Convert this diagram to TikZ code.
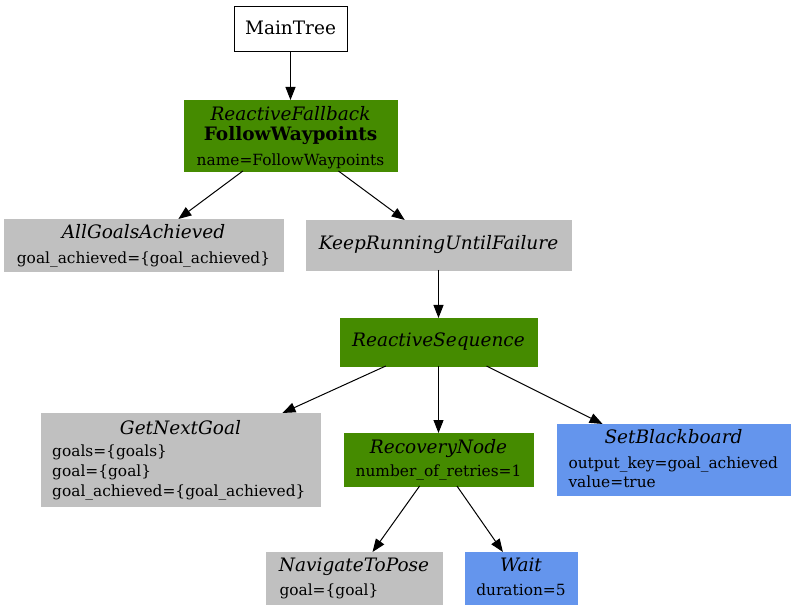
\documentclass[tikz,border=0pt]{standalone}
\usepackage{fontspec}
\setmainfont{DejaVu Serif}
\usetikzlibrary{arrows.meta}
\definecolor{bgreen}{HTML}{458B00}
\definecolor{bgray}{HTML}{C0C0C0}
\definecolor{bblue}{HTML}{6495ED}
\tikzset{
  box/.style={draw=#1, fill=#1, inner sep=0pt, outer sep=0pt},
  whitebox/.style={draw=black, fill=white, line width=1pt, inner sep=0pt, outer sep=0pt},
  ttl/.style={anchor=base, inner sep=0pt, font=\fontsize{18.5}{22}\selectfont\itshape},
  ttlup/.style={anchor=base, inner sep=0pt, font=\fontsize{18.5}{22}\selectfont},
  ttlbf/.style={anchor=base, inner sep=0pt, font=\fontsize{18.5}{22}\selectfont\bfseries},
  prm/.style={anchor=base, inner sep=0pt, font=\fontsize{15.4}{18}\selectfont},
  prml/.style={anchor=base west, inner sep=0pt, font=\fontsize{15.4}{18}\selectfont},
  edge/.style={line width=1pt, -{Triangle[length=13pt,width=10pt]}}
}
\begin{document}
\begin{tikzpicture}[x=1pt,y=-1pt]
\useasboundingbox (0,0) rectangle (795,609);
% boxes
\node[whitebox, minimum width=113pt, minimum height=45pt] (main) at (290.5,29.5) {};
\node[box=bgreen, minimum width=213pt, minimum height=71pt] (fw) at (290.5,135.5) {};
\node[box=bgray, minimum width=279pt, minimum height=52pt] (ag) at (143.5,245) {};
\node[box=bgray, minimum width=265pt, minimum height=50pt] (keep) at (438.5,245) {};
\node[box=bgreen, minimum width=197pt, minimum height=48pt] (rs) at (438.5,342) {};
\node[box=bgray, minimum width=279pt, minimum height=93pt] (gng) at (180.5,459.5) {};
\node[box=bgreen, minimum width=189pt, minimum height=53pt] (rec) at (438.5,459.5) {};
\node[box=bblue, minimum width=233pt, minimum height=71pt] (sbb) at (673.5,459.5) {};
\node[box=bgray, minimum width=176pt, minimum height=52pt] (nav) at (354,578) {};
\node[box=bblue, minimum width=112pt, minimum height=52pt] (wait) at (521,578) {};
% texts
\node[ttlup] (t-main) at (290.5,34.5) {MainTree};
\node[ttl] (t-fw1) at (290.5,120.5) {ReactiveFallback};
\node[ttlbf] (t-fw2) at (290.5,140.7) {FollowWaypoints};
\node[prm] (t-fw3) at (290.5,165.7) {name=FollowWaypoints};
\node[ttl] (t-ag1) at (143.5,238.3) {AllGoalsAchieved};
\node[prm] (t-ag2) at (143.5,263.3) {goal\_achieved=\{goal\_achieved\}};
\node[ttl] (t-keep) at (438.5,249.3) {KeepRunningUntilFailure};
\node[ttl] (t-rs) at (438.5,346.7) {ReactiveSequence};
\node[ttl] (t-gng) at (180.5,434) {GetNextGoal};
\node[prml] (t-gng1) at (52,456.7) {goals=\{goals\}};
\node[prml] (t-gng2) at (52,476.7) {goal=\{goal\}};
\node[prml] (t-gng3) at (52,496.7) {goal\_achieved=\{goal\_achieved\}};
\node[ttl] (t-rec) at (438.5,453.3) {RecoveryNode};
\node[prm] (t-rec1) at (438.5,476.7) {number\_of\_retries=1};
\node[ttl] (t-sbb) at (673.5,443.3) {SetBlackboard};
\node[prml] (t-sbb1) at (568.3,468.3) {output\_key=goal\_achieved};
\node[prml] (t-sbb2) at (568.3,487.7) {value=true};
\node[ttl] (t-nav) at (354,571.7) {NavigateToPose};
\node[prml] (t-nav1) at (279.3,595) {goal=\{goal\}};
\node[ttl] (t-wait) at (521,571.7) {Wait};
\node[prm] (t-wait1) at (521,595) {duration=5};
% edges
\draw[edge] (main) -- (fw);
\draw[edge] (fw) -- (ag);
\draw[edge] (fw) -- (keep);
\draw[edge] (keep) -- (rs);
\draw[edge] (rs) -- (gng);
\draw[edge] (rs) -- (rec);
\draw[edge] (rs) -- (sbb);
\draw[edge] (rec) -- (nav);
\draw[edge] (rec) -- (wait);
\end{tikzpicture}
\end{document}
